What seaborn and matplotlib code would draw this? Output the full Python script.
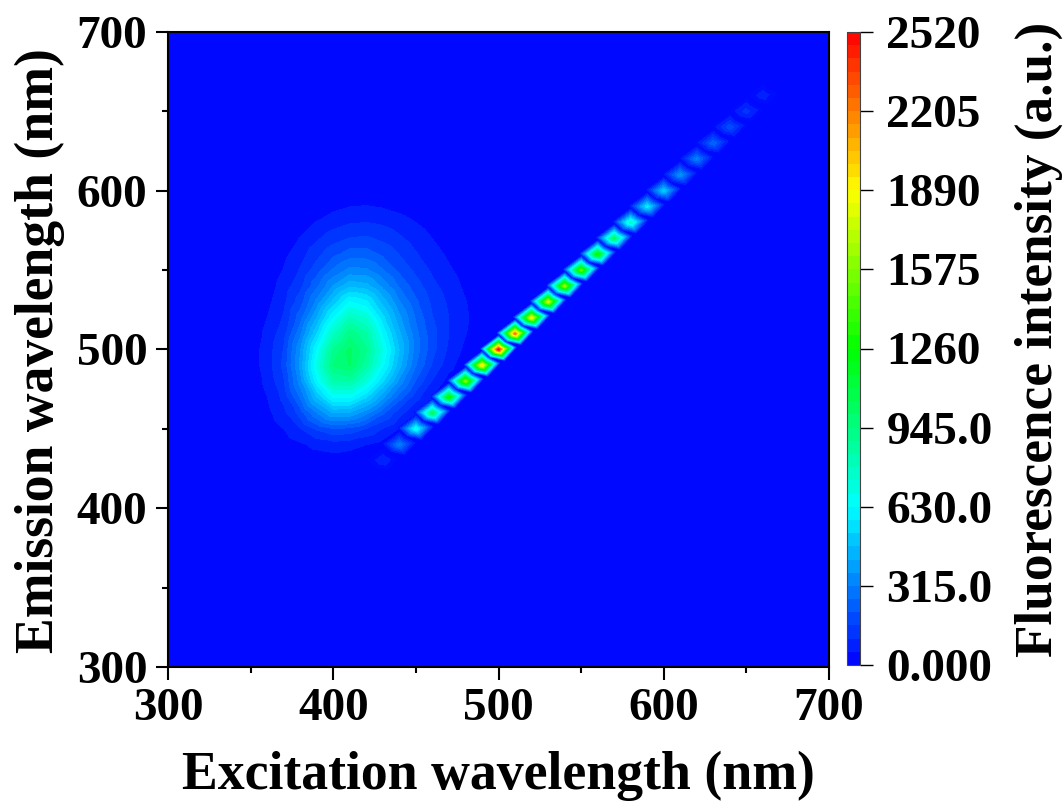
import numpy as np
import seaborn as sns
import matplotlib
matplotlib.use('Agg')
import matplotlib.pyplot as plt
import matplotlib.tri as mtri

# intensity, 10 nm grid
excitation = np.arange(300, 701, 10)
emission = np.arange(300, 701, 10)

blob_ex = [340, 350, 360, 370, 380, 390, 400, 410, 420, 430, 440, 450, 460, 470, 480, 490, 500]
blob_em = [600, 590, 580, 570, 560, 550, 540, 530, 520, 510, 500, 490, 480, 470, 460, 450, 440, 430]
blob_values = [
    [0, 0, 0, 0, 0, 3, 8, 15, 15, 12, 6, 2, 0, 0, 0, 0, 0],
    [0, 0, 0, 0, 8, 20, 38, 52, 55, 48, 35, 18, 6, 0, 0, 0, 0],
    [0, 0, 0, 8, 28, 55, 80, 100, 105, 95, 75, 52, 30, 10, 0, 0, 0],
    [0, 0, 2, 22, 55, 95, 135, 160, 165, 145, 115, 80, 52, 25, 8, 0, 0],
    [0, 0, 8, 38, 82, 140, 195, 235, 235, 200, 155, 110, 75, 42, 18, 3, 0],
    [0, 2, 15, 55, 110, 185, 270, 330, 325, 265, 195, 145, 95, 60, 30, 8, 0],
    [0, 5, 25, 75, 140, 250, 370, 460, 440, 350, 255, 180, 120, 78, 42, 15, 0],
    [0, 10, 38, 90, 185, 330, 490, 630, 590, 450, 320, 220, 145, 95, 55, 20, 0],
    [0, 15, 52, 110, 240, 420, 630, 790, 730, 540, 380, 255, 160, 105, 60, 25, 0],
    [0, 20, 65, 135, 300, 520, 770, 930, 850, 620, 430, 280, 175, 105, 55, 20, 0],
    [0, 25, 75, 160, 360, 630, 900, 1010, 900, 680, 470, 290, 175, 95, 40, 10, 0],
    [0, 25, 75, 170, 380, 680, 950, 1000, 860, 640, 440, 265, 150, 70, 20, 0, 0],
    [0, 20, 65, 150, 340, 610, 830, 850, 710, 530, 350, 205, 100, 30, 0, 0, 0],
    [0, 15, 52, 120, 265, 470, 640, 640, 530, 380, 235, 125, 48, 5, 0, 0, 0],
    [0, 8, 35, 90, 180, 310, 420, 410, 330, 220, 125, 55, 10, 0, 0, 0, 0],
    [0, 2, 18, 52, 100, 165, 205, 195, 155, 100, 50, 12, 0, 0, 0, 0, 0],
    [0, 0, 5, 20, 42, 68, 78, 70, 52, 28, 8, 0, 0, 0, 0, 0, 0],
    [0, 0, 0, 3, 10, 18, 25, 22, 12, 3, 0, 0, 0, 0, 0, 0, 0],
]

# scatter line where excitation = emission
scatter_wl = [430, 440, 450, 460, 470, 480, 490, 500, 510, 520, 530, 540,
              550, 560, 570, 580, 590, 600, 610, 620, 630, 640, 650, 660]
scatter_values = [90, 320, 680, 1050, 1300, 1600, 1950, 2520, 2250, 1900, 1800, 1650,
                  1500, 1300, 1050, 780, 600, 510, 370, 320, 260, 200, 130, 80]

cbar_ticks = [0, 315, 630, 945, 1260, 1575, 1890, 2205, 2520]
cbar_labels = ['0.000', '315.0', '630.0', '945.0', '1260', '1575', '1890', '2205', '2520']
axis_ticks = [300, 400, 500, 600, 700]
minor_ticks = [350, 450, 550, 650]

z = np.zeros((len(emission), len(excitation)))
for i, em in enumerate(blob_em):
    for j, ex in enumerate(blob_ex):
        z[(em - 300) // 10, (ex - 300) // 10] = blob_values[i][j]

sns.set_theme(style='ticks')
plt.rcParams['font.family'] = ['Liberation Serif', 'DejaVu Serif']
plt.rcParams['font.weight'] = 'bold'
plt.rcParams['text.color'] = 'black'
plt.rcParams['axes.labelcolor'] = 'black'
plt.rcParams['xtick.color'] = 'black'
plt.rcParams['ytick.color'] = 'black'

cmap = sns.blend_palette(['#0000ff', '#00ffff', '#00ff00', '#ffff00', '#ff0000'], n_colors=256, as_cmap=True)
levels = np.linspace(0, 2520, 49)

W, H = 1064, 801
fig = plt.figure(figsize=(W / 100, H / 100), dpi=100)
ax = fig.add_axes([168 / W, 1 - 667 / H, 661 / W, 635 / H])
cax = fig.add_axes([847 / W, 1 - 665 / H, 13 / W, 633 / H])

X, Y = np.meshgrid(excitation, emission)
ax.set_facecolor('#0000ff')
cs = ax.tricontourf(mtri.Triangulation(X.ravel(), Y.ravel()), z.ravel(), levels=levels,
                    cmap=cmap, vmin=0, vmax=2520)

# each scatter spot is a small flat hexagon falling to zero around its peak
spot_shape = [(0, 9), (4.5, 5), (11, 1.5), (3.5, -7), (-5.5, -5), (-11, 0.5)]
px, py, pz, tris = [], [], [], []
for wl, v in zip(scatter_wl, scatter_values):
    c = len(px)
    px.append(wl)
    py.append(wl)
    pz.append(v)
    for k, (dx, dy) in enumerate(spot_shape):
        px.append(wl + dx)
        py.append(wl + dy)
        pz.append(0)
        tris.append([c, c + 1 + k, c + 1 + (k + 1) % len(spot_shape)])
spot_levels = np.concatenate([[20], levels[1:]])
ax.tricontourf(mtri.Triangulation(px, py, tris), pz, levels=spot_levels, cmap=cmap, vmin=0, vmax=2520)

ax.set_xlim(300, 700)
ax.set_ylim(300, 700)
ax.set_xticks(axis_ticks)
ax.set_yticks(axis_ticks)
ax.set_xticks(minor_ticks, minor=True)
ax.set_yticks(minor_ticks, minor=True)
ax.tick_params(which='major', length=9, width=1.5, labelsize=34, pad=6, color='black')
ax.tick_params(which='minor', length=4.5, width=1.5, color='black')
for s in ax.spines.values():
    s.set_linewidth(1.5)
    s.set_color('black')

ax.set_xlabel('Excitation wavelength (nm)', fontsize=38.7, fontweight='bold')
ax.set_ylabel('Emission wavelength (nm)', fontsize=38.6, fontweight='bold')
ax.xaxis.set_label_coords((498 - 168) / 661, -(751 - 667) / 635)
ax.yaxis.set_label_coords(-(168 - 65) / 661, (667 - 351) / 635)

cb = fig.colorbar(cs, cax=cax)
cb.set_ticks(cbar_ticks)
cb.set_ticklabels(cbar_labels)
cb.ax.minorticks_off()
cb.ax.tick_params(length=9, width=1, labelsize=34, pad=10, color='black')
cb.outline.set_linewidth(0.8)
cb.outline.set_edgecolor('#444444')
cb.set_label('Fluorescence intensity (a.u.)', fontsize=38.3, fontweight='bold')
cax.yaxis.set_label_coords((1015 - 847) / 13, (665 - 339) / 633)

fig.savefig('out.png', dpi=100)
